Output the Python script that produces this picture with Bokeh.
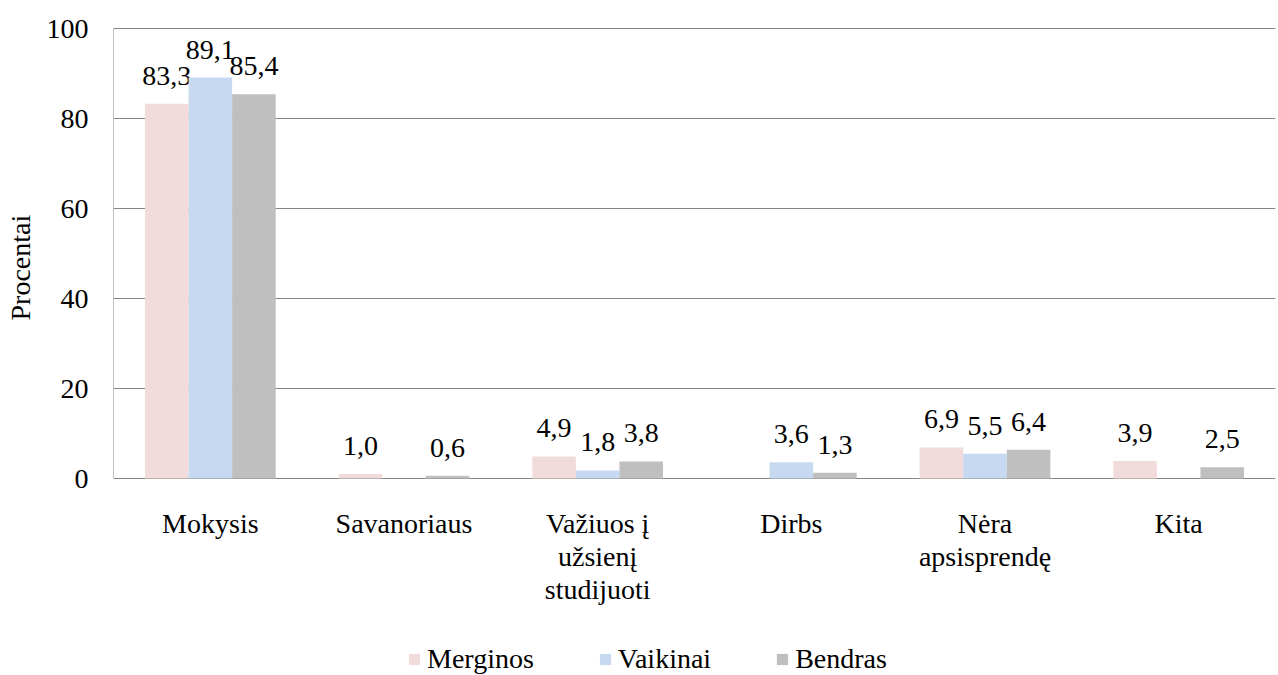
from bokeh.plotting import figure
from bokeh.models import ColumnDataSource, Legend, LegendItem, FixedTicker, Title
from bokeh.transform import dodge
from bokeh.core.properties import value
from bokeh.embed import file_html
from bokeh.resources import INLINE

categories = ["Mokysis", "Savanoriaus", "Važiuos į užsienį studijuoti", "Dirbs", "Nėra apsisprendę", "Kita"]
cat_lines = [["Mokysis"], ["Savanoriaus"], ["Važiuos į", "užsienį", "studijuoti"], ["Dirbs"],
             ["Nėra", "apsisprendę"], ["Kita"]]
merginos = [83.3, 1.0, 4.9, None, 6.9, 3.9]
vaikinai = [89.1, None, 1.8, 3.6, 5.5, None]
bendras = [85.4, 0.6, 3.8, 1.3, 6.4, 2.5]
series_names = ["Merginos", "Vaikinai", "Bendras"]
colors = ["#F2DCDB", "#C6D9F1", "#BFBFBF"]
y_ticks = [0, 20, 40, 60, 80, 100]

FONT = "'Liberation Serif', 'Times New Roman', serif"
FS = "28px"
W, H = 1278, 675
LEFT, TOP, RIGHT = 113, 27, 3
PX_PER_UNIT = 4.5                    # 100 units = 450 px
frame_h = H - TOP
y_end = 100 + 1 / PX_PER_UNIT
y_start = y_end - frame_h / PX_PER_UNIT

p = figure(x_range=categories, y_range=(y_start, y_end), width=W, height=H,
           output_backend="svg", toolbar_location=None,
           min_border_left=LEFT, min_border_right=RIGHT, min_border_top=TOP, min_border_bottom=0)
p.outline_line_color = None
p.background_fill_color = "white"
p.border_fill_color = "white"

offsets = [-0.225, 0.0, 0.225]
items = []
for name, vals, col, off in zip(series_names, [merginos, vaikinai, bendras], colors, offsets):
    xs = [c for c, v in zip(categories, vals) if v is not None]
    ys = [v for v in vals if v is not None]
    txt = [f"{v:.1f}".replace(".", ",") for v in ys]
    src = ColumnDataSource(dict(x=xs, y=ys, t=txt))
    r = p.vbar(x=dodge("x", off, range=p.x_range), top="y", width=0.225, source=src,
               fill_color=col, line_color=None)
    p.text(x=dodge("x", off, range=p.x_range), y="y", text="t", source=src,
           text_align="center", text_baseline="alphabetic", y_offset=-28,
           text_font=value(FONT), text_font_size=FS, text_color="black")
    items.append(LegendItem(label=name, renderers=[r]))

# y axis line (0..100 only)
p.segment(x0=[0], y0=[y_ticks[0]], x1=[0], y1=[y_ticks[-1]], line_color="#868686", line_width=1)

# category labels (multi-line) below the axis
lx, ly, lt = [], [], []
for c, lines in zip(categories, cat_lines):
    for i, line in enumerate(lines):
        lx.append(c)
        ly.append(-(45 + 33 * i) / PX_PER_UNIT)
        lt.append(line)
lab_src = ColumnDataSource(dict(x=lx, y=ly, t=lt))
p.text(x="x", y="y", text="t", source=lab_src, text_align="center", text_baseline="middle",
       text_font=value(FONT), text_font_size=FS, text_color="black")

p.xgrid.grid_line_color = None
p.ygrid.grid_line_color = "#868686"
p.ygrid.grid_line_width = 1
p.yaxis.ticker = FixedTicker(ticks=y_ticks)
p.ygrid.ticker = FixedTicker(ticks=y_ticks)
p.yaxis.minor_tick_line_color = None
p.yaxis.major_tick_line_color = None
p.yaxis.major_tick_out = 0
p.yaxis.major_tick_in = 0
p.yaxis.major_label_standoff = 25
p.yaxis.axis_line_color = None
p.yaxis.major_label_text_font = FONT
p.yaxis.major_label_text_font_size = FS
p.yaxis.major_label_text_color = "black"
p.yaxis.axis_label = " "
p.yaxis.axis_label_text_font_size = "1px"
p.yaxis.axis_label_standoff = 4
p.xaxis.visible = False

ylab = Title(text="Procentai", align="left", offset=355, text_font=FONT,
             text_font_size=FS, text_font_style="normal", text_color="black", standoff=0)
p.add_layout(ylab, "left")

legend = Legend(items=items, orientation="horizontal", location=(294, 0),
                label_text_font=FONT, label_text_font_size=FS, label_text_color="black",
                glyph_width=14, glyph_height=14, label_standoff=6, spacing=64,
                border_line_color=None, background_fill_alpha=0, margin=0, padding=0)
p.add_layout(legend, "center")

open("out.html", "w").write(file_html(p, INLINE))
